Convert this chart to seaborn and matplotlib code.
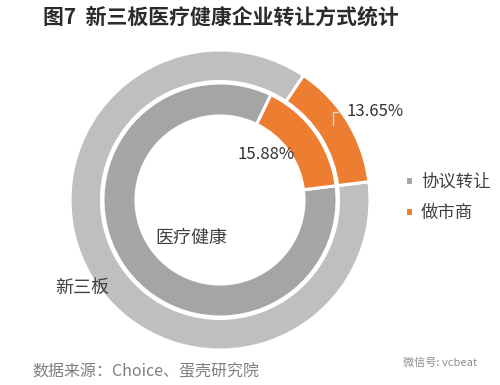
import matplotlib
matplotlib.use("Agg")
import matplotlib.pyplot as plt
import seaborn as sns

# data
categories = ["协议转让", "做市商"]
ring_names = ["新三板", "医疗健康"]
outer_share = [86.35, 13.65]   # 新三板
inner_share = [84.12, 15.88]   # 医疗健康

sns.set_theme(style="white")
plt.rcParams['font.family'] = ['Noto Sans CJK SC', 'DejaVu Sans']

outer_colors = ["#BFBFBF", "#ED7D31"]
inner_colors = ["#A5A5A5", "#ED7D31"]

fig = plt.figure(figsize=(5, 3.85), dpi=100)
# pie centre at (220, 200) px, radius 150 px
ax = fig.add_axes([70 / 500, 35 / 385, 300 / 500, 300 / 385])

wedge_kw = dict(edgecolor="white", linewidth=2.2)
outer, _ = ax.pie(outer_share, radius=1.0, colors=outer_colors, startangle=7,
                  counterclock=False, wedgeprops=dict(width=0.21, **wedge_kw))
inner, _ = ax.pie(inner_share, radius=0.78, colors=inner_colors, startangle=7,
                  counterclock=False, wedgeprops=dict(width=0.22, **wedge_kw))
ax.set_xlim(-1, 1)
ax.set_ylim(-1, 1)
ax.set_aspect("equal")
ax.axis("off")

# percentage labels
ax.text(1.035, 0.587, f"{outer_share[1]:.2f}%", fontsize=12, color="#333333",
        ha="center", va="center")
ax.text(0.305, 0.30, f"{inner_share[1]:.2f}%", fontsize=12, color="#333333",
        ha="center", va="center")
ax.plot([0.753, 0.753, 0.785], [0.50, 0.585, 0.585], color="#D9D9D9", lw=1)

# ring names
ax.text(-0.92, -0.587, ring_names[0], fontsize=13, color="#404040",
        ha="center", va="center")
ax.text(-0.193, -0.253, ring_names[1], fontsize=13, color="#404040",
        ha="center", va="center")

# legend
fig.legend([inner[0], inner[1]], categories, loc="center left",
           bbox_to_anchor=(395 / 500, 1 - 197 / 385), frameon=False,
           fontsize=12.5, handlelength=0.45, handleheight=0.45,
           handletextpad=0.45, labelspacing=0.75, borderpad=0.1,
           labelcolor="#404040")

# title and footer
fig.text(43 / 500, 1 - 17 / 385, "图7  新三板医疗健康企业转让方式统计",
         fontsize=15, fontweight="bold", color="#2B2B2B",
         ha="left", va="center")
fig.text(32 / 500, 1 - 372 / 385, "数据来源：Choice、蛋壳研究院",
         fontsize=11.5, color="#7F7F7F", ha="left", va="center")
fig.text(403 / 500, 1 - 363 / 385, "微信号: vcbeat",
         fontsize=8, color="#8C8C8C", ha="left", va="center")

fig.savefig("out.png", dpi=100)
